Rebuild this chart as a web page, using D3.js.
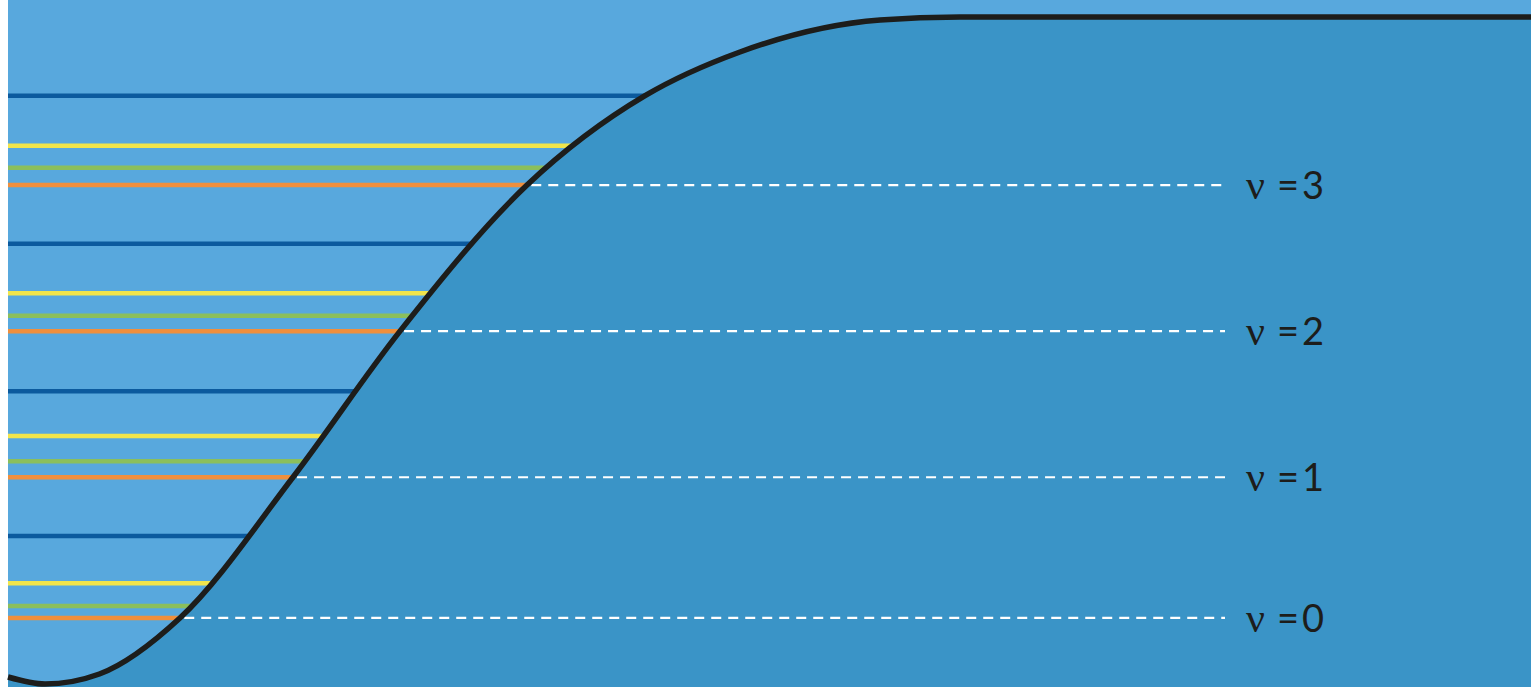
<!DOCTYPE html>
<html>
<head>
<meta charset="utf-8">
<script src="https://cdn.jsdelivr.net/npm/d3@7"></script>
<style>
  body { margin: 0; background: #fff; }
  svg { display: block; }
</style>
</head>
<body>
<div id="chart"></div>
<script>
// potential curve (distance, energy)
const curveR = [0, 2.43, 6.0, 11.29, 18.71, 25.74, 34.08, 41.83, 48.06, 57.26, 62.5, 100]
const curveE = [1.05, 0, 1.5, 9.9, 31.0, 52.9, 74.8, 88.2, 94.75, 99.55, 100, 100]

// energy levels per vibrational state
const levels = ['0', '1', '2', '3']
const orangeE = [9.9, 31.0, 52.9, 74.8]
const greenE = [11.7, 33.4, 55.2, 77.4]
const yellowE = [15.1, 37.2, 58.6, 80.7]
const blueE = [22.2, 43.9, 66.0, 88.2]

let margin = { top: 0, left: 8, right: 5, bottom: 0 }
let width = 1536 - margin.left - margin.right
let height = 687 - margin.top - margin.bottom

let svg = d3.select('#chart')
  .append('svg')
  .attr('width', width + margin.left + margin.right)
  .attr('height', height + margin.top + margin.bottom)
  .append('g')
  .attr('transform', `translate(${margin.left},${margin.top})`)

let xScale = d3.scaleLinear().domain([0, 100]).range([0, width])
let yScale = d3.scaleLinear().domain([0, 100]).range([684, 17])

let points = curveR.map((r, i) => [r, curveE[i]])

let line = d3.line()
  .x(d => xScale(d[0]))
  .y(d => yScale(d[1]))
  .curve(d3.curveMonotoneX)

let area = d3.area()
  .x(d => xScale(d[0]))
  .y0(height)
  .y1(d => yScale(d[1]))
  .curve(d3.curveMonotoneX)

// background
svg.append('rect')
  .attr('width', width)
  .attr('height', height)
  .attr('fill', '#58a8dd')

svg.append('path')
  .datum(points)
  .attr('d', area)
  .attr('fill', '#3a94c7')

// hidden helper path to find where a level meets the curve
let helper = svg.append('path')
  .datum(points)
  .attr('d', line)
  .attr('fill', 'none')
  .attr('stroke', 'none')
let node = helper.node()
let total = node.getTotalLength()
let samples = d3.range(0, total, 0.5).map(l => node.getPointAtLength(l))
let minX = xScale(curveR[1])

function crossX(e) {
  let y = yScale(e)
  let p = samples.find(s => s.x > minX && s.y <= y)
  return p ? p.x : width
}

let layers = [
  { values: blueE, color: '#0b5a9e' },
  { values: yellowE, color: '#f1e54b' },
  { values: greenE, color: '#8bbf5c' },
  { values: orangeE, color: '#ef8f3d' }
]

layers.forEach(layer => {
  svg.selectAll(null)
    .data(layer.values)
    .enter()
    .append('line')
    .attr('x1', 0)
    .attr('x2', d => crossX(d))
    .attr('y1', d => yScale(d))
    .attr('y2', d => yScale(d))
    .attr('stroke', layer.color)
    .attr('stroke-width', 4.5)
})

// dashed guides
svg.selectAll('.guide')
  .data(orangeE)
  .enter()
  .append('line')
  .attr('class', 'guide')
  .attr('x1', d => crossX(d) + 4)
  .attr('x2', 1217)
  .attr('y1', d => yScale(d))
  .attr('y2', d => yScale(d))
  .attr('stroke', '#ffffff')
  .attr('stroke-width', 2.2)
  .attr('stroke-dasharray', '10,7')

// the curve itself
svg.append('path')
  .datum(points)
  .attr('d', line)
  .attr('fill', 'none')
  .attr('stroke', '#1d1d1b')
  .attr('stroke-width', 5.5)

// labels
let labels = svg.selectAll('.label')
  .data(levels)
  .enter()
  .append('text')
  .attr('class', 'label')
  .attr('y', (d, i) => yScale(orangeE[i]))
  .attr('dy', '0.36em')
  .attr('font-family', 'Lato, sans-serif')
  .attr('font-size', 38)
  .attr('fill', '#1d1d1b')

labels.append('tspan')
  .attr('x', 1238)
  .attr('font-family', '"Liberation Serif", serif')
  .attr('font-size', 42)
  .text('ν')
labels.append('tspan')
  .attr('x', 1269)
  .text('=')
labels.append('tspan')
  .attr('x', 1294)
  .text(d => d)
</script>
</body>
</html>
